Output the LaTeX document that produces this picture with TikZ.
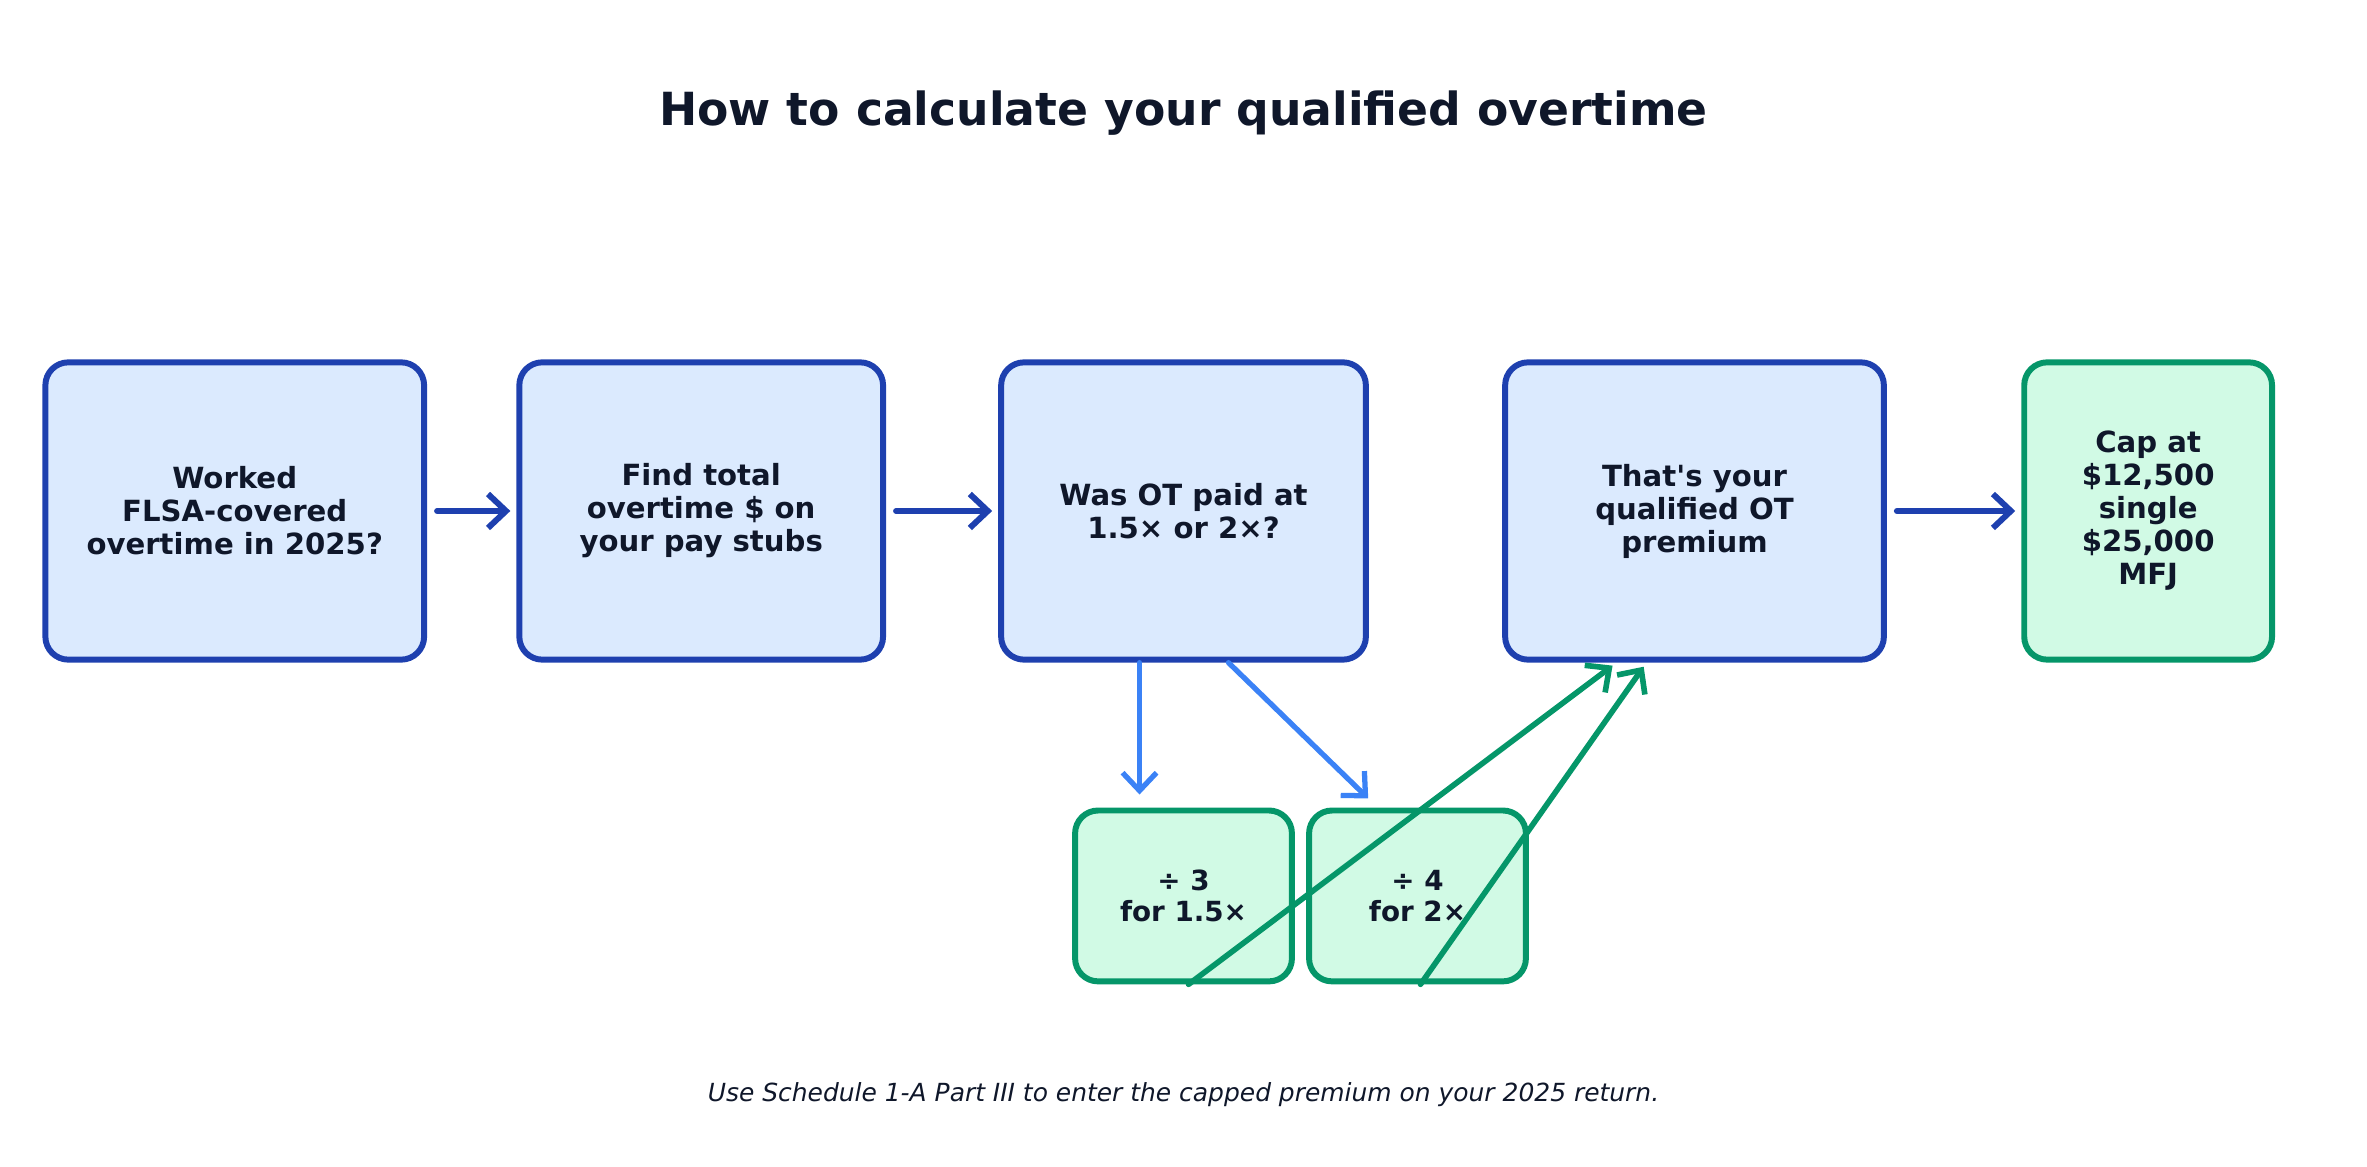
\documentclass[tikz,border=0pt]{standalone}
\usepackage{fontspec}
\setmainfont{DejaVu Sans}
\usetikzlibrary{arrows.meta}

\definecolor{boxblue}{HTML}{1E40AF}
\definecolor{fillblue}{HTML}{DBEAFE}
\definecolor{boxgreen}{HTML}{059669}
\definecolor{fillgreen}{HTML}{D1FAE5}
\definecolor{lightblue}{HTML}{3B82F6}
\definecolor{inktext}{HTML}{0F172A}

\tikzset{
  flowbox/.style={draw=boxblue, fill=fillblue, line width=1.7pt, rounded corners=0.23cm,
    align=center, text=inktext, font=\fontsize{8.3}{9.4}\selectfont\bfseries,
    minimum height=2.975cm, inner sep=2pt},
  capbox/.style={flowbox, draw=boxgreen, fill=fillgreen},
  smallbox/.style={capbox, font=\fontsize{7.9}{8.9}\selectfont\bfseries,
    minimum width=2.17cm, minimum height=1.71cm},
  mainarrow/.style={-{Straight Barb[length=1.8mm,width=3.4mm]}, line width=1.7pt,
    boxblue, line cap=round, shorten <=0.1cm, shorten >=0.06cm},
  splitarrow/.style={mainarrow, lightblue, line width=1.5pt, shorten <=0pt, shorten >=0.13cm},
  mergearrow/.style={mainarrow, boxgreen, line width=1.6pt, shorten <=0pt, shorten >=0.05cm},
}

\begin{document}
\begin{tikzpicture}[x=0.0151cm, y=-0.0151cm]
	\useasboundingbox (0,0) rectangle (1568,773);

	% title and note
	\node[text=inktext, font=\fontsize{13}{15}\selectfont\bfseries] (title) at (784,75) {How to calculate your qualified overtime};
	\node[text=inktext, font=\fontsize{7.1}{8.5}\selectfont\itshape] (note) at (784,725) {Use Schedule 1-A Part III to enter the capped premium on your 2025 return.};

	% main row
	\node[flowbox, minimum width=3.79cm] (worked) at (155.5,338.5) {Worked\\FLSA-covered\\overtime in 2025?};
	\node[flowbox, minimum width=3.64cm] (total) at (464.5,338.5) {Find total\\overtime \$ on\\your pay stubs};
	\node[flowbox, minimum width=3.65cm] (rate) at (784,338.5) {Was OT paid at\\1.5× or 2×?};
	\node[flowbox, minimum width=3.79cm] (premium) at (1122.5,338.5) {That\textquotesingle s your\\qualified OT\\premium};
	\node[capbox, minimum width=2.48cm] (cap) at (1423,338.5) {Cap at\\\$12,500\\single\\\$25,000\\MFJ};

	% split boxes
	\node[smallbox] (third) at (784,593.5) {÷ 3\\for 1.5×};
	\node[smallbox] (fourth) at (939,593.5) {÷ 4\\for 2×};

	\draw[mainarrow] (worked) -- (total);
	\draw[mainarrow] (total) -- (rate);
	\draw[mainarrow] (premium) -- (cap);

	\draw[splitarrow] ([xshift=-0.44cm]rate.south) -- ([xshift=-0.44cm]third.north);
	\draw[splitarrow] ([xshift=0.45cm]rate.south) -- ([xshift=-0.4cm]fourth.north);

	\draw[mergearrow] ([xshift=0.05cm]third.south) -- ([xshift=-0.78cm]premium.south);
	\draw[mergearrow] ([xshift=0.03cm]fourth.south) -- ([xshift=-0.48cm]premium.south);
\end{tikzpicture}
\end{document}
